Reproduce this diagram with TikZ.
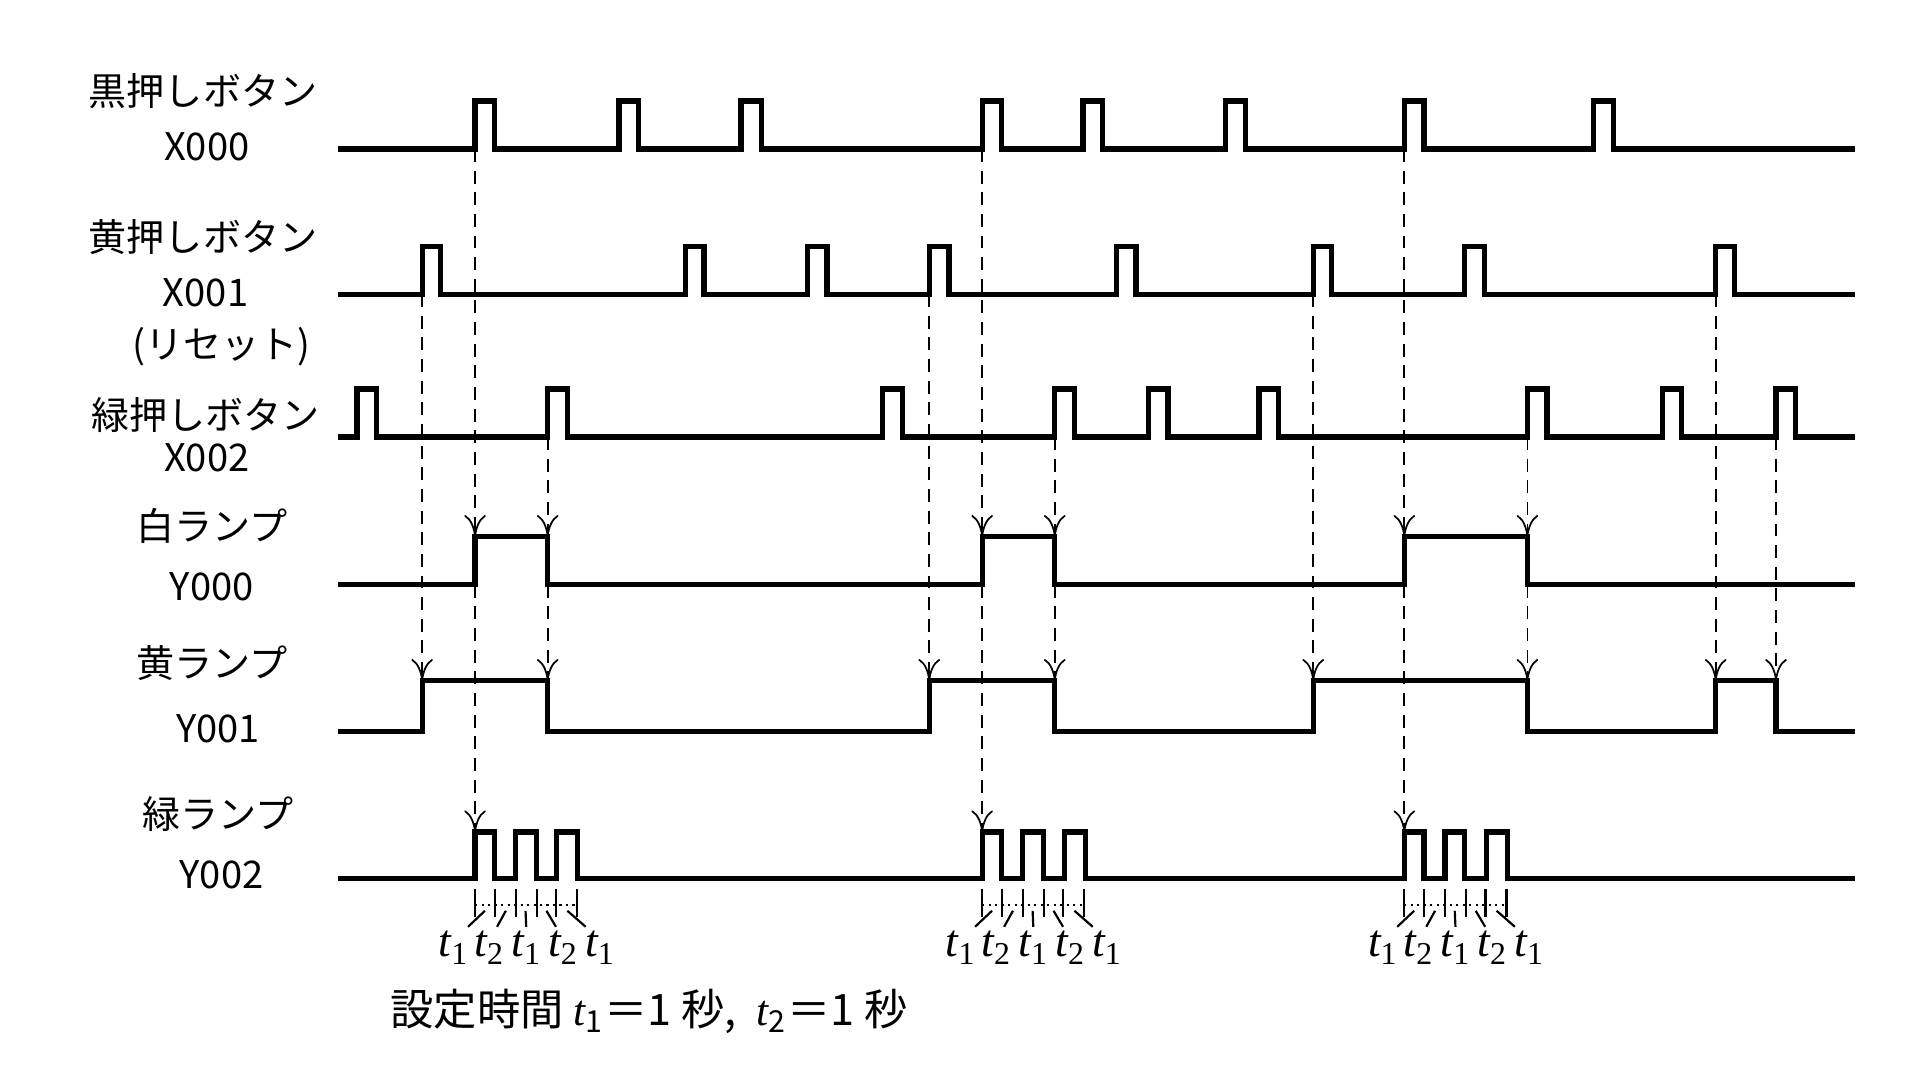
\documentclass[tikz,border=0pt]{standalone}
\usepackage{fontspec}
\usetikzlibrary{arrows.meta}
\newfontfamily\jp{Noto Sans CJK JP}
\newfontfamily\lab{Liberation Serif}
\begin{document}
\begin{tikzpicture}[x=0.01cm,y=-0.01cm,
  sig/.style={line width=1.2pt,line join=miter},
  dep/.style={dashed,line width=0.4pt,dash pattern=on 3pt off 2pt,-{To[length=5pt,width=5pt]}},
  lbl/.style={font=\jp\fontsize{8.8}{10}\selectfont},
  tl/.style={font=\lab\itshape\fontsize{10.5}{12}\selectfont,inner sep=0pt}]
\useasboundingbox (0,0) rectangle (1560,877.5);
% labels
\node[lbl] (l0) at (165,74) {黒押しボタン};
\node[lbl] (l0b) at (168,119) {X000};
\node[lbl] (l1) at (165,193) {黄押しボタン};
\node[lbl] (l1b) at (167,238) {X001};
\node[lbl] (l1c) at (180,282) {(リセット)};
\node[lbl] (l2) at (167,337) {緑押しボタン};
\node[lbl] (l2b) at (168,372) {X002};
\node[lbl] (l3) at (172,427) {白ランプ};
\node[lbl] (l3b) at (172,477) {Y000};
\node[lbl] (l4) at (172,539) {黄ランプ};
\node[lbl] (l4b) at (177,592) {Y001};
\node[lbl] (l5) at (177,661) {緑ランプ};
\node[lbl] (l5b) at (180,711) {Y002};
% waveforms
\draw[sig] (275,121) foreach \a/\b in {386/402,503/519,602/619,798/814,880/896,996/1012,1141/1157,1295/1311}{ -- (\a,121) -- (\a,82) -- (\b,82) -- (\b,121)} -- (1507,121);
\draw[sig] (275,239) foreach \a/\b in {343/358,557/572,656/672,755/771,907/923,1067/1082,1190/1206,1394/1409}{ -- (\a,239) -- (\a,200) -- (\b,200) -- (\b,239)} -- (1507,239);
\draw[sig] (275,355) foreach \a/\b in {290/306,445/461,717/733,857/873,933/949,1023/1039,1241/1257,1351/1366,1443/1459}{ -- (\a,355) -- (\a,316) -- (\b,316) -- (\b,355)} -- (1507,355);
\draw[sig] (275,475) foreach \a/\b in {386/445,798/857,1141/1241}{ -- (\a,475) -- (\a,436) -- (\b,436) -- (\b,475)} -- (1507,475);
\draw[sig] (275,594) foreach \a/\b in {343/445,755/857,1067/1241,1394/1443}{ -- (\a,594) -- (\a,553) -- (\b,553) -- (\b,594)} -- (1507,594);
\draw[sig] (275,714) foreach \a/\b in {386/402,419/436,452/469,798/814,831/848,865/882,1141/1157,1174/1190,1208/1225}{ -- (\a,714) -- (\a,676) -- (\b,676) -- (\b,714)} -- (1507,714);
% dependencies
\foreach \x in {386,798,1141}{
  \draw[dep] (\x,121) -- (\x,436);
  \draw[dep] (\x,440) -- (\x,676);}
\foreach \x in {343,755,1067,1394}{
  \draw[dep] (\x,239) -- (\x,553);}
\foreach \x in {445,857,1241}{
  \draw[dep] (\x,355) -- (\x,436);
  \draw[dep] (\x,440) -- (\x,553);}
\draw[dep] (1443,355) -- (1443,553);
% timing marks
\foreach \s in {386,798,1141}{
  \foreach \d in {0,16,33,50,66,83}{
    \draw[line width=0.5pt] (\s+\d,722) -- (\s+\d,745);}
  \draw[densely dotted,line width=0.5pt] (\s,735) -- (\s+83,735);
  \foreach \m/\l/\t [count=\i] in {8/-17/1,25/12/2,41/42/1,58/72/2,75/102/1}{
    \draw[line width=0.5pt] (\s+\m,740) -- ({\s+\m+(\l-\m)*0.55},753);
    \node[tl] (t\s\i) at (\s+\l,770) {t\textsubscript{\upshape\t}};}
}
\node[font=\jp\fontsize{10}{12}\selectfont,anchor=west] (note) at (305,822) {設定時間 {\lab\itshape t}\textsubscript{1}＝1 秒,\ \ {\lab\itshape t}\textsubscript{2}＝1 秒};
\end{tikzpicture}
\end{document}
